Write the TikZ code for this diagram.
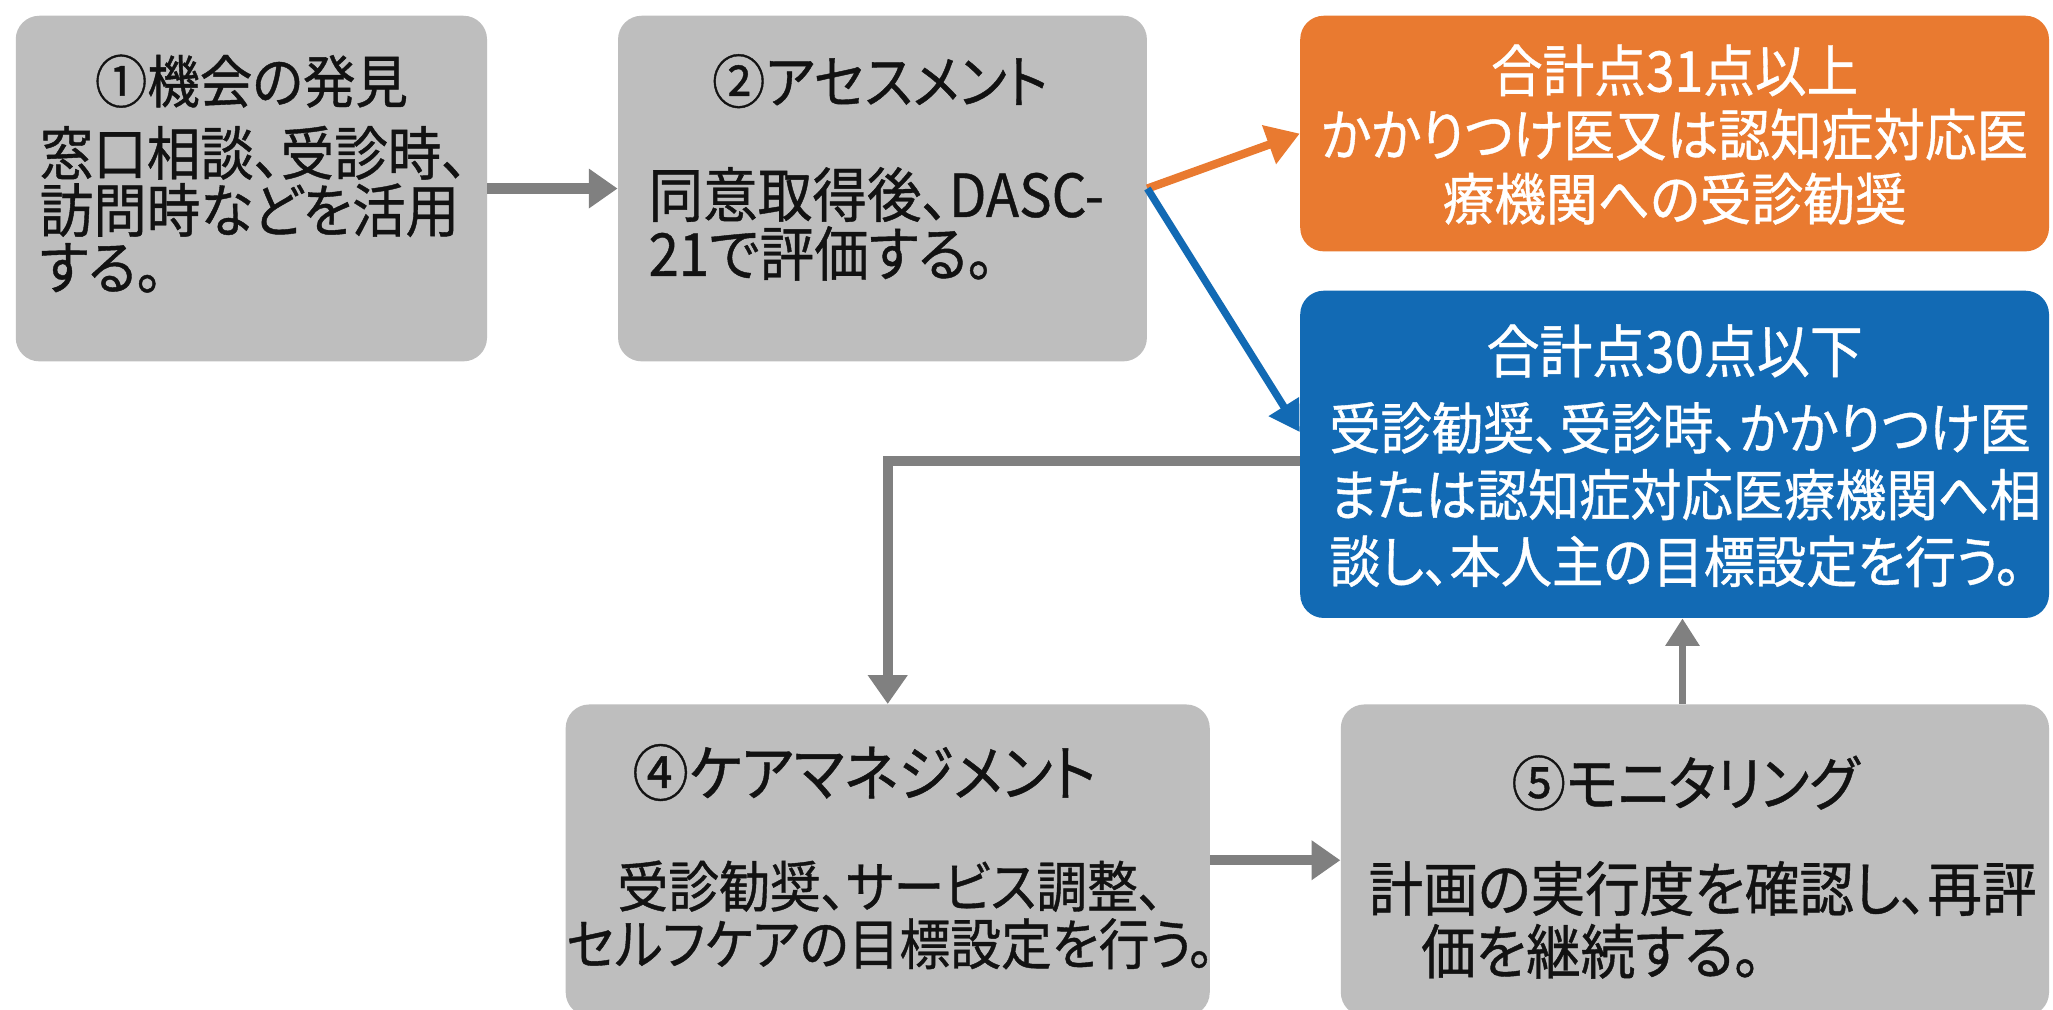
\documentclass[tikz,border=0pt]{standalone}
\usepackage{fontspec}
\setmainfont{Noto Sans CJK JP}[FakeStretch=0.92, FakeBold=0.7, RawFeature=+palt]
\usetikzlibrary{arrows.meta}
\definecolor{boxgray}{RGB}{190,190,190}
\definecolor{arrgray}{RGB}{128,128,128}
\definecolor{orangebox}{RGB}{233,122,48}
\definecolor{bluebox}{RGB}{18,106,180}
\newcommand\fs[2]{\fontsize{#1pt}{#2pt}\selectfont}
\tikzset{
  gbox/.style={draw=none, fill=boxgray, rounded corners=0.36cm, inner sep=0},
  obox/.style={draw=none, fill=orangebox, rounded corners=0.36cm, inner sep=0},
  bbox/.style={draw=none, fill=bluebox, rounded corners=0.36cm, inner sep=0},
  txt/.style={inner sep=0, text=black!93},
  wtxt/.style={inner sep=0, text=white},
  garrow/.style={draw=arrgray, line width=4.4pt, -{Triangle[length=0.44cm,width=0.58cm]}},
  garrowthin/.style={draw=arrgray, line width=3.2pt, -{Triangle[length=0.42cm,width=0.5cm]}},
  oarrow/.style={draw=orangebox, line width=3.6pt, -{Triangle[length=0.5cm,width=0.6cm]}},
  barrow/.style={draw=bluebox, line width=3.2pt, -{Triangle[length=0.46cm,width=0.52cm]}},
}
\begin{document}
\begin{tikzpicture}[x=0.02cm, y=-0.02cm]
\useasboundingbox (0,0) rectangle (1568,771);
\fill[white] (0,0) rectangle (1568,771);
% boxes
\node[gbox, minimum width=7.2cm, minimum height=5.28cm] (b1) at (192,144) {};
\node[gbox, minimum width=8.08cm, minimum height=5.28cm] (b2) at (674,144) {};
\node[obox, minimum width=11.44cm, minimum height=3.6cm] (bo) at (1279,102) {};
\node[bbox, minimum width=11.44cm, minimum height=5.0cm] (bb) at (1279,347) {};
\node[gbox, minimum width=9.84cm, minimum height=4.76cm] (b4) at (678,657) {};
\node[gbox, minimum width=10.82cm, minimum height=4.76cm] (b5) at (1294.5,657) {};
% texts
\node[txt, font=\fs{24.8}{30}] (t1) at (192,62) {①機会の発見};
\node[txt, font=\fs{25.3}{24.8}, align=left, anchor=north west] (c1) at (30,95.8)
  {窓口相談、受診時、\\訪問時などを活用\\する。};
\node[txt, font=\fs{25.2}{30}] (t2) at (672,62) {②アセスメント};
\node[txt, font=\fs{25.8}{25.6}, align=left, anchor=north west] (c2) at (495,127.3)
  {同意取得後、DASC-\\21で評価する。};
\node[wtxt, font=\fs{24.4}{27.9}, align=center, anchor=north] (co) at (1279,33.6)
  {合計点31点以上\\かかりつけ医又は認知症対応医\\療機関への受診勧奨};
\node[wtxt, font=\fs{25}{30}] (tb) at (1279,268) {合計点30点以下};
\node[wtxt, font=\fs{24.2}{29}, align=left, anchor=north west] (cb) at (1015,306.7)
  {受診勧奨、受診時、かかりつけ医\\または認知症対応医療機関へ相\\談し、本人主の目標設定を行う。};
\node[txt, font=\fs{26.6}{30}] (t4) at (660,590) {④ケアマネジメント};
\node[txt, font=\fs{24}{25}, align=center, anchor=north] (c4) at (680,656.9)
  {受診勧奨、サービス調整、\\セルフケアの目標設定を行う。};
\node[txt, font=\fs{25.8}{30}] (t5) at (1287,598) {⑤モニタリング};
\node[txt, font=\fs{25.8}{27.3}, align=left, anchor=north west] (c5) at (1045,657.3)
  {計画の実行度を確認し、再評\\\hspace*{22.8pt}価を継続する。};
% connectors
\draw[garrow] (b1.east) -- (b2.west);
\draw[oarrow] (b2.east) -- (bo.west);
\draw[barrow] (b2.east) -- ([yshift=0.34cm]bb.west);
\draw[garrow] ([yshift=-0.1cm]bb.west) -| (b4.north);
\draw[garrow] (b4.east) -- (b5.west);
\draw[garrowthin] ([xshift=-0.19cm]b5.north) -- ([xshift=-0.19cm]b5.north |- bb.south);
\end{tikzpicture}
\end{document}
